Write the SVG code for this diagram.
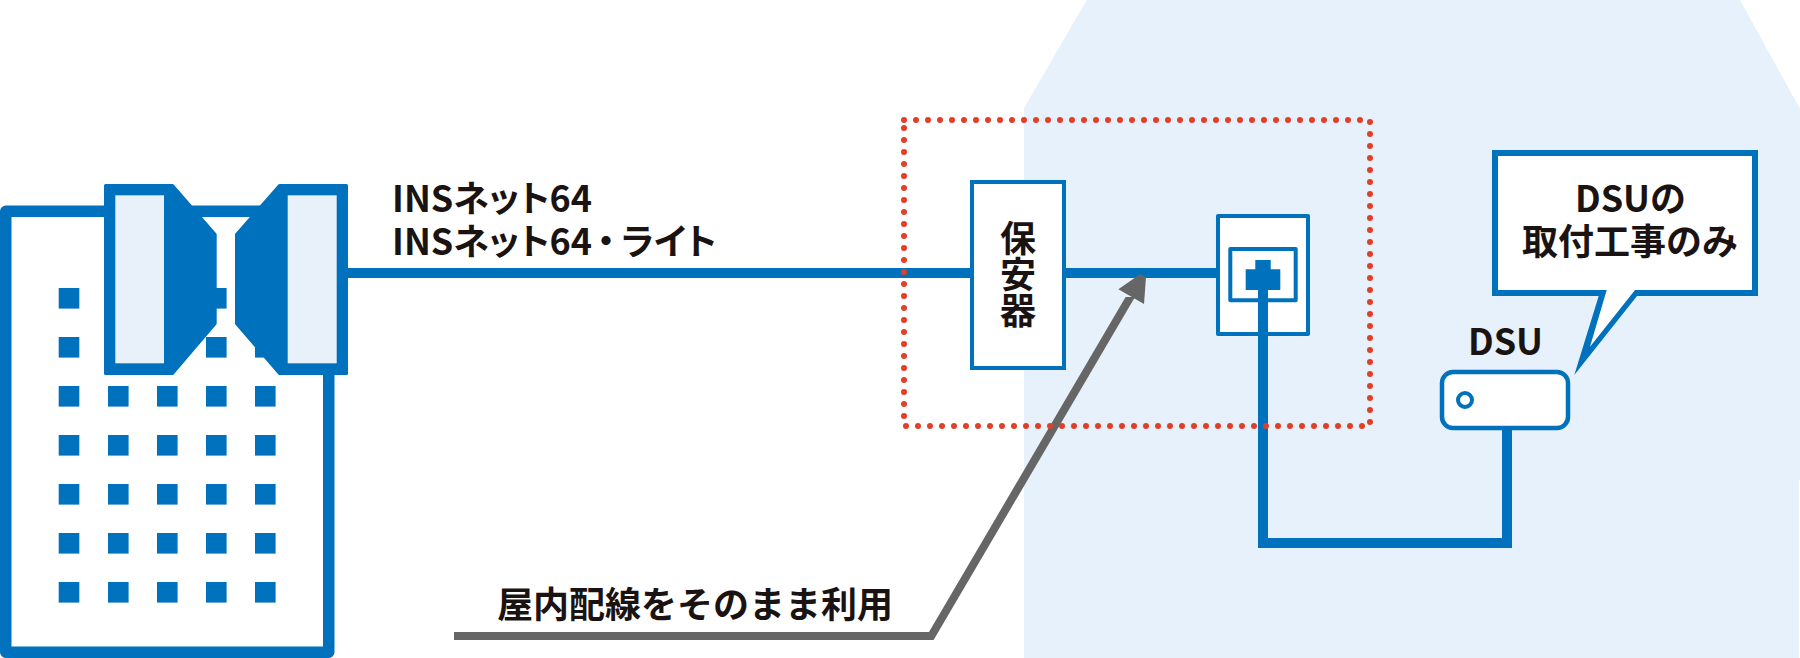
<svg xmlns="http://www.w3.org/2000/svg" width="1800" height="658" viewBox="0 0 1800 658">
<style>
.b{fill:#0071bc}
.w{fill:#fff;stroke:#0071bc}
.ln{fill:none;stroke:#0071bc;stroke-width:10}
.lt{fill:#e8f0fa}
.dot{fill:none;stroke:#e33f26;stroke-width:6;stroke-linecap:round;stroke-dasharray:0 12}
.t{font-family:"Noto Sans CJK JP","Noto Sans",sans-serif;font-weight:700;fill:#1a1311;font-size:36px}
.m{text-anchor:middle}
.p{font-feature-settings:"palt"}
.v{writing-mode:vertical-rl}
</style>
<defs>
<rect id="sq" width="20.6" height="20.6" class="b"/>
</defs>
<rect width="1800" height="658" fill="#fff"/>
<polygon id="house" points="1024,658 1024,108 1086.7,0 1740,0 1800,109 1800,480 1799,480 1799,658" fill="#e6f1fb"/>
<g id="building">
<rect x="5.75" y="211.25" width="323" height="441" fill="#fff" stroke="#0071bc" stroke-width="11.5" stroke-linejoin="round"/>
<use href="#sq" x="58.7" y="288"/><use href="#sq" x="206" y="288"/>
<use href="#sq" x="58.7" y="337"/><use href="#sq" x="206" y="337"/><use href="#sq" x="255" y="337"/>
<use href="#sq" x="58.7" y="386"/><use href="#sq" x="108" y="386"/><use href="#sq" x="157" y="386"/><use href="#sq" x="206" y="386"/><use href="#sq" x="255" y="386"/>
<use href="#sq" x="58.7" y="435"/><use href="#sq" x="108" y="435"/><use href="#sq" x="157" y="435"/><use href="#sq" x="206" y="435"/><use href="#sq" x="255" y="435"/>
<use href="#sq" x="58.7" y="484"/><use href="#sq" x="108" y="484"/><use href="#sq" x="157" y="484"/><use href="#sq" x="206" y="484"/><use href="#sq" x="255" y="484"/>
<use href="#sq" x="58.7" y="533"/><use href="#sq" x="108" y="533"/><use href="#sq" x="157" y="533"/><use href="#sq" x="206" y="533"/><use href="#sq" x="255" y="533"/>
<use href="#sq" x="58.7" y="582"/><use href="#sq" x="108" y="582"/><use href="#sq" x="157" y="582"/><use href="#sq" x="206" y="582"/><use href="#sq" x="255" y="582"/>
</g>
<g id="handset-left">
<polygon class="b" stroke="#0071bc" stroke-width="3" stroke-linejoin="round" points="105.5,185.5 172.5,185.5 215.2,234.5 215.2,323.5 172.5,373.5 105.5,373.5"/>
<rect x="115.3" y="195.3" width="48.7" height="168" class="lt"/>
</g>
<g id="handset-right">
<polygon class="b" stroke="#0071bc" stroke-width="3" stroke-linejoin="round" points="346.5,185.5 279.5,185.5 236.5,234.5 236.5,323.5 279.5,373.5 346.5,373.5"/>
<rect x="287.7" y="195.3" width="49" height="168" class="lt"/>
</g>
<g id="connectors">
<path class="ln" d="M348 273H972M1064 273H1218"/>
<path class="ln" d="M1263 285V543H1507V428"/>
<polygon points="454,632 929,632 1125.6,297 1135,297 933.6,640 454,640" fill="#666"/>
<polygon points="1118.3,289.3 1140,274.3 1146,277.3 1144,304" fill="#666"/>
</g>
<g id="protector">
<rect x="972" y="182" width="92" height="186" class="w" stroke-width="4"/>
<text class="t v" x="1018" y="220">保安器</text>
</g>
<g id="outlet">
<rect x="1218" y="216" width="90" height="118" class="w" stroke-width="4" stroke-linejoin="round"/>
<rect x="1230.3" y="249" width="65.4" height="51.3" fill="none" stroke="#0071bc" stroke-width="4" stroke-linejoin="round"/>
<path class="ln" d="M1263 285V336"/>
<polygon class="b" points="1255.3,260 1270.7,260 1270.7,269.3 1280.3,269.3 1280.3,290 1245.7,290 1245.7,269.3 1255.3,269.3"/>
</g>
<g id="dsu">
<rect x="1442" y="372" width="126" height="56" rx="11" class="w" stroke-width="4.5"/>
<circle cx="1465" cy="400" r="7" fill="#fff" stroke="#0071bc" stroke-width="4"/>
<text class="t m" x="1505.5" y="355">DSU</text>
</g>
<g id="callout">
<polygon class="b" points="1492,150 1758,150 1758,296 1637,296 1574.3,375 1598.7,296 1492,296"/>
<polygon fill="#fff" points="1498,156 1752,156 1752,290 1635,290 1590,346.7 1606.7,290 1498,290"/>
<text class="t m"><tspan x="1630.5" y="211.5">DSUの</tspan><tspan x="1630" y="255">取付工事のみ</tspan></text>
</g>
<g id="labels">
<text class="t p"><tspan x="392" y="211.5">INSネット64</tspan><tspan x="392" y="254.5">INSネット64</tspan><tspan dx="5">・</tspan><tspan dx="6">ライト</tspan></text>
<text class="t" x="497" y="618">屋内配線をそのまま利用</text>
</g>
<g id="frame">
<path class="dot" d="M904 120H1360.5"/>
<path class="dot" d="M1370 122V422.5"/>
<path class="dot" d="M1362 426H905.5"/>
<path class="dot" d="M904 416V127.5"/>
</g>
</svg>
